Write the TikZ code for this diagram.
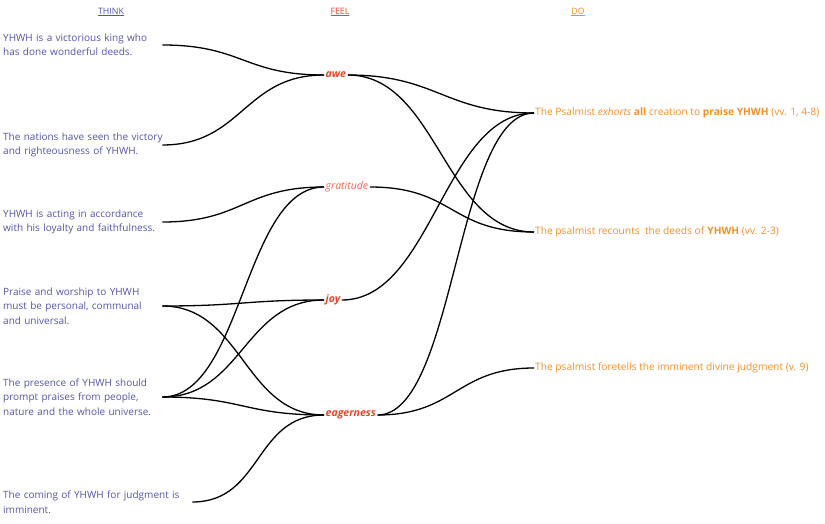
\documentclass[tikz,border=0pt]{standalone}
\usepackage{fontspec}
\setmainfont{Open Sans}
\usepackage{tikz}
\usetikzlibrary{positioning}
\usepackage{xcolor}
\definecolor{thinkblue}{RGB}{85,85,165}
\definecolor{feelred}{RGB}{232,68,42}
\definecolor{feellight}{RGB}{236,104,84}
\definecolor{doorange}{RGB}{240,145,40}
\tikzstyle{header} = [font=\fontsize{8.8}{10}\selectfont, inner sep=0pt]
\tikzstyle{think} = [anchor=west, align=left, inner sep=0pt, text=thinkblue, font=\fontsize{10}{14.5}\selectfont]
\tikzstyle{feel} = [anchor=west, inner xsep=1.5pt, inner ysep=0pt, text=feelred, font=\fontsize{10.5}{12}\selectfont\bfseries\itshape]
\tikzstyle{do} = [anchor=west, inner xsep=1pt, inner ysep=0pt, text=doorange, font=\fontsize{10.2}{12}\selectfont]
\tikzstyle{link} = [line width=1.3pt, color=black]

\begin{document}
\begin{tikzpicture}[x=1pt, y=-1pt]
\useasboundingbox (0,0) rectangle (825,524);
% Headers
\node[header, text=thinkblue] (hthink) at (111,12) {\underline{THINK}};
\node[header, text=feelred] (hfeel) at (340,12) {\underline{FEEL}};
\node[header, text=doorange] (hdo) at (578,12) {\underline{DO}};

% Think
\node[think, text width=159pt] (t1) at (3,45) {YHWH is a victorious king who\\has done wonderful deeds.};
\node[think, text width=159pt] (t2) at (3,145) {\mbox{The nations have seen the victory}\\and righteousness of YHWH.};
\node[think, text width=159pt] (t3) at (3,222) {YHWH is acting in accordance\\with his loyalty and faithfulness.};
\node[think, text width=159pt] (t4) at (3,306) {Praise and worship to YHWH\\must be personal, communal\\and universal.};
\node[think, text width=159pt] (t5) at (3,397) {The presence of YHWH should\\prompt praises from people,\\nature and the whole universe.};
\node[think, text width=189pt] (t6) at (3,502) {The coming of YHWH for judgment is\\imminent.};

% Feel
\node[feel] (awe) at (324,75) {awe};
\node[feel, text=feellight, font=\fontsize{10.5}{12}\selectfont\itshape] (gratitude) at (324,187) {gratitude};
\node[feel] (joy) at (324,300) {joy};
\node[feel] (eagerness) at (324,415) {eagerness};

% Do
\node[do] (d1) at (534,113) {The Psalmist \textit{exhorts} \textbf{all} creation to \textbf{praise YHWH} (vv. 1, 4-8)};
\node[do] (d2) at (534,232) {The psalmist recounts\ \ the deeds of \textbf{YHWH} (vv. 2-3)};
\node[do] (d3) at (534,368) {The psalmist foretells the imminent divine judgment (v. 9)};

% Think to feel
\draw[link] (t1.east) .. controls +(80,0) and +(-80,0) .. (awe.west);
\draw[link] (t2.east) .. controls +(80,0) and +(-80,0) .. (awe.west);
\draw[link] (t3.east) .. controls +(80,0) and +(-80,0) .. (gratitude.west);
\draw[link] (t4.east) .. controls +(80,0) and +(-80,0) .. (joy.west);
\draw[link] (t4.east) .. controls +(80,0) and +(-80,0) .. (eagerness.west);
\draw[link] (t5.east) .. controls +(80,0) and +(-80,0) .. (gratitude.west);
\draw[link] (t5.east) .. controls +(80,0) and +(-80,0) .. (joy.west);
\draw[link] (t5.east) .. controls +(80,0) and +(-80,0) .. (eagerness.west);
\draw[link] (t6.east) .. controls +(70,0) and +(-70,0) .. (eagerness.west);

% Feel to do
\draw[link] (awe.east) .. controls +(90,0) and +(-90,0) .. (d1.west);
\draw[link] (awe.east) .. controls +(90,0) and +(-90,0) .. (d2.west);
\draw[link] (gratitude.east) .. controls +(85,0) and +(-85,0) .. (d2.west);
\draw[link] (joy.east) .. controls +(90,0) and +(-90,0) .. (d1.west);
\draw[link] (eagerness.east) .. controls +(78,0) and +(-78,0) .. (d1.west);
\draw[link] (eagerness.east) .. controls +(78,0) and +(-78,0) .. (d3.west);
\end{tikzpicture}
\end{document}
